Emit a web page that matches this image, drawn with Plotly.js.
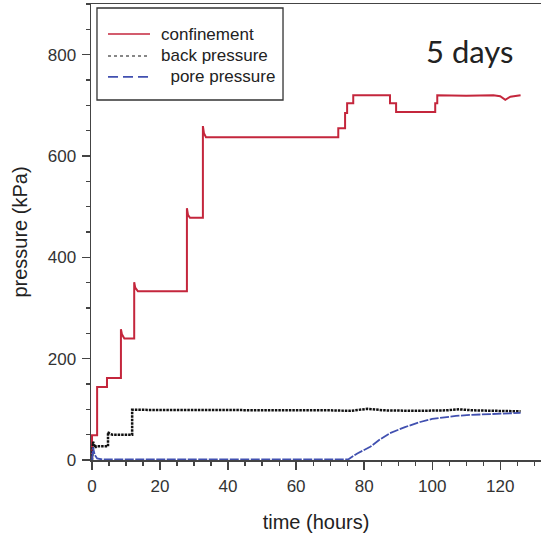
<!DOCTYPE html>
<html>
<head>
<meta charset="utf-8">
<script src="https://cdn.plot.ly/plotly-3.0.1.min.js"></script>
<style>
  html, body { margin: 0; padding: 0; background: #fff; }
  #chart { width: 541px; height: 538px; }
</style>
</head>
<body>
<div id="chart"></div>
<script>
// Confining pressure steps (hours, kPa)
const confTime = [0, 0, 1.5, 1.5, 4.4, 4.4, 8.5, 8.5, 8.8, 9.5, 12.4, 12.4, 12.7, 13.5,
  27.9, 27.9, 28.2, 28.8, 32.6, 32.6, 32.9, 33.5, 50, 72.4, 72.4, 74.4, 74.4, 75.0, 75.0,
  76.8, 76.8, 87.6, 87.6, 89.4, 89.4, 100.9, 100.9, 101.5, 101.5, 110, 118, 120, 121.5, 123, 126];
const confVals = [0, 49, 49, 144, 144, 162, 162, 258, 248, 240, 240, 351, 340, 333,
  333, 497, 484, 478, 478, 659, 645, 637, 637, 637, 655, 655, 685, 685, 704,
  704, 720, 720, 704, 704, 687, 687, 704, 704, 720, 719, 720, 718, 711, 717, 720];

// Back pressure
const backTime = [0, 0.3, 0.6, 1.0, 1.2, 4.7, 4.7, 5.2, 6, 11.8, 11.8, 14, 30, 50, 70, 76,
  81, 86, 95, 104, 108, 112, 120, 126];
const backVals = [0, 36, 30, 24, 27, 27, 55, 52, 50, 50, 99, 99, 98, 99, 98, 97,
  101, 98, 97, 98, 100, 98, 97, 96];

// Pore pressure
const poreTime = [0, 0.3, 0.8, 1.5, 3, 20, 40, 60, 75.3, 78, 81.8, 84.5, 87.6, 92, 96.5,
  100, 103.8, 107, 111.2, 116, 120, 123, 126];
const poreVals = [0, 25, 10, 3, 1, 1, 1, 1, 1, 13, 26, 40, 53, 65, 75,
  81, 85, 87, 89, 90, 91, 92, 93];

// Legend entries
const seriesNames = ['confinement', 'back pressure', '  pore pressure'];
const seriesColors = ['#c4263c', '#111111', '#4150b0'];
const noteText = '5 days';
const xTitle = 'time (hours)';
const yTitle = 'pressure (kPa)';

const traces = [
  { x: confTime, y: confVals, mode: 'lines', name: seriesNames[0],
    line: { color: seriesColors[0], width: 2 } },
  { x: backTime, y: backVals, mode: 'lines', name: seriesNames[1],
    line: { color: seriesColors[1], width: 2.5, dash: '2.5px,1px' } },
  { x: poreTime, y: poreVals, mode: 'lines', name: seriesNames[2],
    line: { color: seriesColors[2], width: 1.8, dash: '9px,1.5px' } }
];

// Hand-drawn legend box (paper coordinates)
const lgX0 = 0.0133, lgX1 = 0.4267, lgY0 = 0.7895, lgY1 = 0.9912;
const lgRows = [0.9342, 0.8860, 0.8400];
const lgDash = ['solid', 'dot', '10px,5px'];
const lgWidth = [1.5, 1.2, 1.8];
const shapes = [{ type: 'rect', xref: 'paper', yref: 'paper', x0: lgX0, x1: lgX1, y0: lgY0, y1: lgY1,
  line: { color: '#333', width: 1.3 }, fillcolor: 'rgba(255,255,255,0)' }];
const annotations = [];
seriesNames.forEach((n, i) => {
  shapes.push({ type: 'line', xref: 'paper', yref: 'paper', x0: 0.0378, x1: 0.1311,
    y0: lgRows[i], y1: lgRows[i], line: { color: seriesColors[i], width: lgWidth[i], dash: lgDash[i] } });
  annotations.push({ xref: 'paper', yref: 'paper', x: 0.152, y: lgRows[i], xanchor: 'left', yanchor: 'middle',
    text: n.replace(/ /g, '&nbsp;'), showarrow: false,
    font: { family: 'Liberation Sans, Arial, sans-serif', size: 17, color: '#222' } });
});
annotations.push({ xref: 'paper', yref: 'paper', x: 0.842, y: 0.897, xanchor: 'center', yanchor: 'middle',
  text: noteText, showarrow: false, font: { family: 'Lato, sans-serif', size: 31, color: '#222' } });

const axisFont = { family: 'Liberation Sans, Arial, sans-serif', size: 17, color: '#333' };

const layout = {
  width: 541, height: 538,
  margin: { l: 91, r: 0, t: 4, b: 78 },
  paper_bgcolor: '#fff', plot_bgcolor: '#fff',
  showlegend: false,
  xaxis: {
    range: [-0.3, 132], showgrid: false, zeroline: false,
    showline: true, linecolor: '#444', linewidth: 1.5, mirror: true,
    ticks: 'outside', ticklen: 8, tickwidth: 1.3, tickcolor: '#444',
    tick0: 0, dtick: 20, tickfont: axisFont, ticklabelstandoff: 2,
    minor: { dtick: 5, ticks: 'outside', ticklen: 4, tickwidth: 1.2, tickcolor: '#444' },
    title: { text: xTitle, font: { family: 'Liberation Sans, Arial, sans-serif', size: 20, color: '#222' }, standoff: 20 }
  },
  yaxis: {
    range: [0, 900], showgrid: false, zeroline: false,
    showline: true, linecolor: '#444', linewidth: 1.5,
    ticks: 'outside', ticklen: 8, tickwidth: 1.3, tickcolor: '#444',
    tick0: 0, dtick: 200, tickfont: axisFont, ticklabelstandoff: 2,
    minor: { dtick: 50, ticks: 'outside', ticklen: 4, tickwidth: 1.2, tickcolor: '#444' },
    title: { text: yTitle, font: { family: 'Liberation Sans, Arial, sans-serif', size: 20, color: '#222' }, standoff: 14 }
  },
  shapes: shapes,
  annotations: annotations
};

Plotly.newPlot('chart', traces, layout, { displayModeBar: false, staticPlot: true });
</script>
</body>
</html>
